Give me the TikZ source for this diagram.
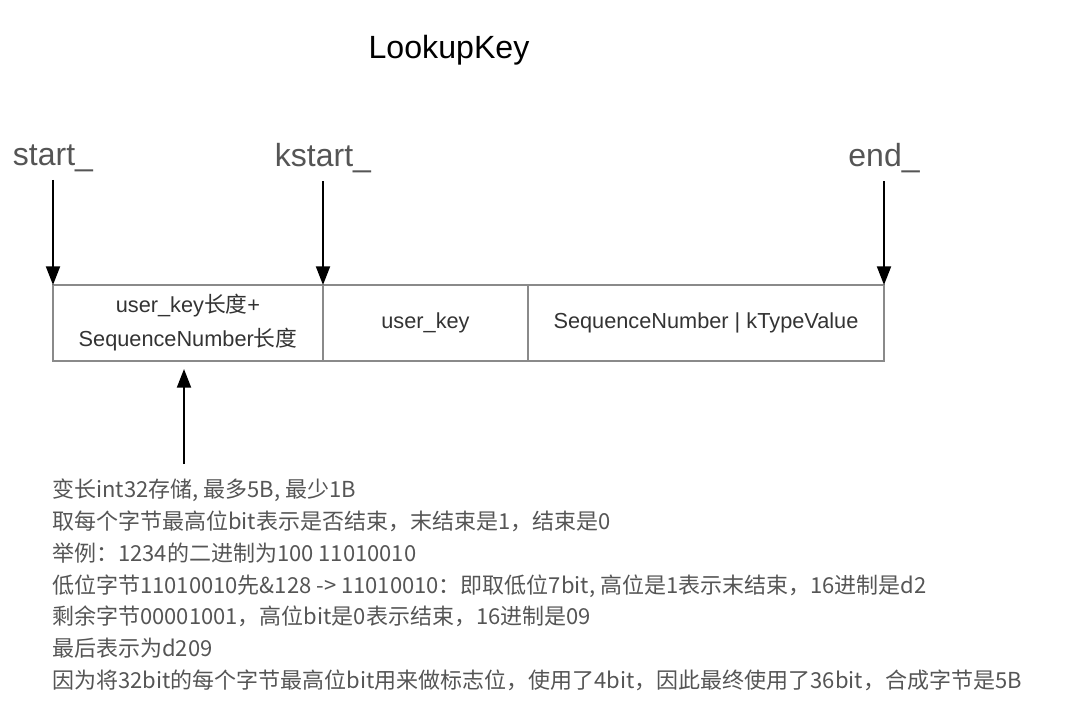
\documentclass[tikz,border=0pt]{standalone}
\usepackage{fontspec}
\setmainfont{Liberation Sans}
\newfontfamily\cjk{Noto Sans CJK SC}
\usetikzlibrary{arrows.meta,positioning}

\definecolor{labelgray}{HTML}{555555}
\definecolor{cellgray}{HTML}{8A8A8A}
\definecolor{notegray}{HTML}{555555}

\tikzset{
  ptrlabel/.style={text=labelgray,font=\fontsize{24}{28}\selectfont,inner sep=2pt},
  cell/.style={draw=cellgray,line width=1.4pt,minimum height=57pt,inner sep=0pt,
    outer sep=0pt,text=black!80,font=\fontsize{16.3}{25.5}\selectfont,align=center},
  ptr/.style={line width=1.5pt,-{Triangle[width=10.5pt,length=14pt]}},
}

\begin{document}
\begin{tikzpicture}[x=0.75pt,y=-0.75pt]
			\useasboundingbox (0,0) rectangle (1070,706);

			% title
			\node[font=\fontsize{24.1}{29}\selectfont] (title) at (449,50) {LookupKey};

			% the three cells of the key
			\node[cell,minimum width=202.5pt,anchor=north west] (keylen) at (53,285)
				{user\_key{\cjk 长度}+\\SequenceNumber{\cjk 长度}};
			\node[cell,minimum width=153.75pt,right=0pt of keylen] (userkey) {user\_key};
			\node[cell,minimum width=267pt,right=0pt of userkey] (seqtype)
				{SequenceNumber | kTypeValue};

			% pointers
			\node[ptrlabel] (start) at (53,158) {start\_};
			\node[ptrlabel] (kstart) at (323,158) {kstart\_};
			\node[ptrlabel] (end) at (884,158) {end\_};

			\draw[ptr] (start.south) ++(0,-4pt) -- (keylen.north west);
			\draw[ptr] (kstart.south) ++(0,-4pt) -- (userkey.north west);
			\draw[ptr] (end.south) ++(0,-4pt) -- (seqtype.north east);

			% varint note
			\coordinate (lentail) at (184,464);
			\coordinate (lentip) at (184,369);
			\draw[ptr] (lentail) -- (lentip);

			\node[anchor=north west,inner sep=0pt,align=left,text=notegray,
				font=\cjk\fontsize{16.5}{23.8}\selectfont] (note) at (52,479)
				{变长int32存储, 最多5B, 最少1B\\
				 取每个字节最高位bit表示是否结束，末结束是1，结束是0\\
				 举例：1234的二进制为100 11010010\\
				 低位字节11010010先\&128 -> 11010010：即取低位7bit, 高位是1表示末结束，16进制是d2\\
				 剩余字节00001001，高位bit是0表示结束，16进制是09\\
				 最后表示为d209\\
				 因为将32bit的每个字节最高位bit用来做标志位，使用了4bit，因此最终使用了36bit，合成字节是5B};
			\end{tikzpicture}
\end{document}
